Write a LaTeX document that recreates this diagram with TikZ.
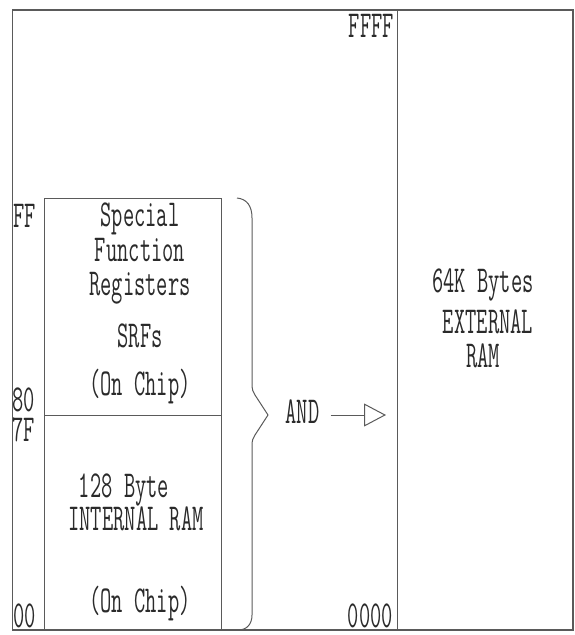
\documentclass[tikz,border=0pt]{standalone}
\usepackage{graphicx}
\usetikzlibrary{arrows.meta}
\definecolor{ln}{HTML}{5A5A5A}
\definecolor{txt}{HTML}{2A2A2A}
\newcommand{\condtxt}[1]{\scalebox{0.575}[1]{#1}}
\tikzset{
  lbl/.style={inner sep=0pt, text=txt, font=\fontsize{38}{40}\selectfont\ttfamily},
  outerline/.style={draw=ln, line width=1.4pt},
  innerline/.style={draw=ln, line width=0.9pt},
  bracepath/.style={draw=ln, line width=1pt, line join=round},
  arr/.style={draw=ln, line width=1pt, -{Triangle[open, length=22pt, width=23pt]}}
}
\begin{document}
\begin{tikzpicture}[x=1pt,y=-1pt]
\useasboundingbox (0,0) rectangle (574,635);
% outer frame and divider
\draw[outerline] (12.7,10) rectangle (573,630);
\draw[innerline] (397,10) -- (397,630);
% on-chip boxes
\draw[innerline] (44,198) rectangle (221,630);
\draw[innerline] (44,415) -- (221,415);
% address labels
\node[lbl, anchor=base west] (ff) at (13,227) {\condtxt{FF}};
\node[lbl, anchor=base west] (a80) at (12,411) {\condtxt{80}};
\node[lbl, anchor=base west] (a7f) at (12,441) {\condtxt{7F}};
\node[lbl, anchor=base west] (a00) at (13,627) {\condtxt{00}};
\node[lbl, anchor=base east] (ffff) at (394,37) {\condtxt{FFFF}};
\node[lbl, anchor=base east] (z0000) at (393,627) {\condtxt{0000}};
% SFR box text
\node[lbl, anchor=base] (t1) at (140,226) {\condtxt{Special}};
\node[lbl, anchor=base] (t2) at (140,261) {\condtxt{Function}};
\node[lbl, anchor=base] (t3) at (140,295) {\condtxt{Registers}};
\node[lbl, anchor=base] (t4) at (140,347) {\condtxt{SRFs}};
\node[lbl, anchor=base] (t5) at (140,395) {\condtxt{(On Chip)}};
% internal RAM text
\node[lbl, anchor=base] (r1) at (124,497) {\condtxt{128 Byte}};
\node[lbl, anchor=base] (r2) at (136,530) {\condtxt{INTERNAL RAM}};
\node[lbl, anchor=base] (r3) at (140,612) {\condtxt{(On Chip)}};
% external RAM text
\node[lbl, anchor=base] (e1) at (483,292) {\condtxt{64K Bytes}};
\node[lbl, anchor=base] (e2) at (488,333) {\condtxt{EXTERNAL}};
\node[lbl, anchor=base] (e3) at (483,367) {\condtxt{RAM}};
% brace
\draw[bracepath] (237,198) .. controls (247,199) and (252,206) .. (252,218)
  -- (252,383) .. controls (252,390) and (253,392) .. (255,395)
  -- (268,415) -- (255,435) .. controls (253,438) and (252,440) .. (252,446)
  -- (252,615) .. controls (252,624) and (247,630) .. (238,630);
% AND and arrow
\node[lbl, anchor=base] (AND) at (302.5,423) {\condtxt{AND}};
\coordinate (tipA) at (386,415);
\draw[arr, shorten <=11pt] (AND.east |- tipA) -- (tipA);
\end{tikzpicture}
\end{document}
